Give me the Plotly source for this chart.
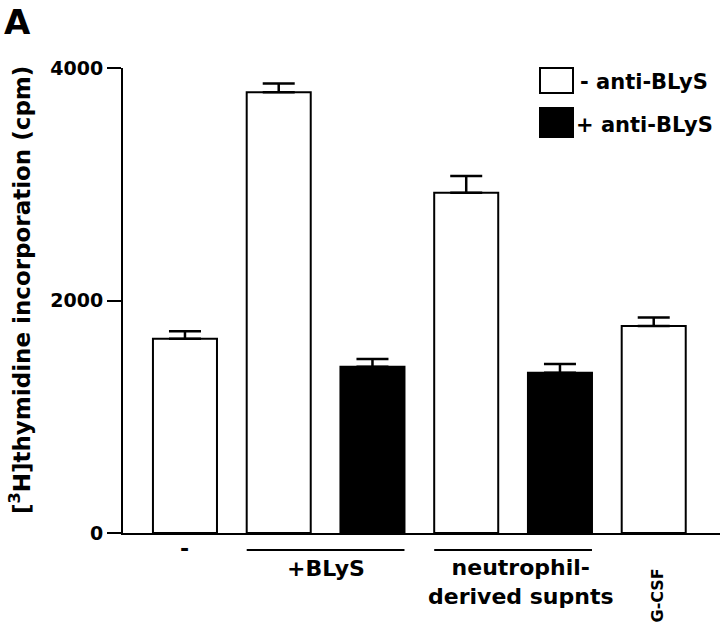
import plotly.graph_objects as go

# ---- data ----
bar_ids = ["none", "BLyS-", "BLyS+", "supnt-", "supnt+", "G-CSF"]
white_ids = ["none", "BLyS-", "supnt-", "G-CSF"]
white_vals = [1670, 3792, 2927, 1780]
white_err = [65, 75, 143, 74]
black_ids = ["BLyS+", "supnt+"]
black_vals = [1430, 1378]
black_err = [67, 75]
y_ticks = [0, 2000, 4000]
legend_names = ["- anti-BLyS", "+ anti-BLyS"]
y_title = "[<sup>3</sup>H]thymidine incorporation (cpm)"

FONT = "DejaVu Sans, Liberation Sans, Arial, sans-serif"
BW = 0.683

fig = go.Figure()
fig.add_trace(go.Bar(
    x=white_ids, y=white_vals, width=BW, name=legend_names[0],
    marker=dict(color="white", line=dict(color="black", width=2)),
    error_y=dict(type="data", array=white_err, arrayminus=[0]*len(white_err),
                 symmetric=False, color="black", thickness=2.5, width=16),
    cliponaxis=False, showlegend=False))
fig.add_trace(go.Bar(
    x=black_ids, y=black_vals, width=BW, name=legend_names[1],
    marker=dict(color="black", line=dict(color="black", width=2)),
    error_y=dict(type="data", array=black_err, arrayminus=[0]*len(black_err),
                 symmetric=False, color="black", thickness=2.5, width=16),
    cliponaxis=False, showlegend=False))

# plot area in page px: x 123..720, y 68..533
fig.update_layout(
    width=720, height=626,
    margin=dict(l=123, r=0, t=68, b=93),
    paper_bgcolor="white", plot_bgcolor="white",
    barmode="overlay",
    font=dict(family=FONT, color="black"),
    xaxis=dict(type="category", categoryorder="array", categoryarray=bar_ids,
               range=[-0.661, 5.707], showticklabels=False, ticks="",
               showline=True, linecolor="black", linewidth=2, showgrid=False,
               zeroline=False, fixedrange=True),
    yaxis=dict(range=[0, 4000], tickvals=y_ticks, ticks="outside", ticklen=14,
               tickwidth=2, tickcolor="black", showline=True, linecolor="black",
               linewidth=2, showgrid=False, zeroline=False,
               tickfont=dict(family=FONT, size=19, color="black", weight="bold")),
)

def px_x(p):
    return (p - 123) / 597
def px_y(p):
    return (533 - p) / 465

# legend built from shapes + text
fig.add_shape(type="rect", xref="paper", yref="paper",
              x0=px_x(540), x1=px_x(573), y0=px_y(93), y1=px_y(68),
              line=dict(color="black", width=2), fillcolor="white")
fig.add_shape(type="rect", xref="paper", yref="paper",
              x0=px_x(540), x1=px_x(573), y0=px_y(137), y1=px_y(108),
              line=dict(color="black", width=2), fillcolor="black")
fig.add_annotation(text=legend_names[0], xref="paper", yref="paper",
                   x=px_x(578), y=px_y(82), xanchor="left", yanchor="middle",
                   showarrow=False, font=dict(size=21, weight="bold"))
fig.add_annotation(text=legend_names[1], xref="paper", yref="paper",
                   x=px_x(574), y=px_y(125), xanchor="left", yanchor="middle",
                   showarrow=False, font=dict(size=21, weight="bold"))

# group underlines
for a, b in [(1, 2), (3, 4)]:
    fig.add_shape(type="line", xref="x", yref="paper",
                  x0=a - BW / 2, x1=b + BW / 2, y0=px_y(550), y1=px_y(550),
                  line=dict(color="black", width=2))

# category labels
lab = dict(xref="x", yref="paper", showarrow=False, xanchor="center", yanchor="middle")
fig.add_annotation(text="-", x=0, y=px_y(548), font=dict(size=22, weight="bold"), **lab)
fig.add_annotation(text="+BLyS", x=1.5, y=px_y(568), font=dict(size=22, weight="bold"), **lab)
fig.add_annotation(text="neutrophil-<br>derived supnts", x=3.58, y=px_y(582),
                   font=dict(size=22, weight="bold"), **lab)
fig.add_annotation(text="G-CSF", x=5.04, y=px_y(595), textangle=-90,
                   font=dict(size=16, weight="bold"), **lab)

# y-axis title
fig.add_annotation(text=y_title, xref="paper", yref="paper", x=px_x(20), y=px_y(290),
                   xanchor="center", yanchor="middle",
                   textangle=-90, showarrow=False, font=dict(size=23, weight="bold"))

# panel letter
fig.add_annotation(text="A", xref="paper", yref="paper", x=px_x(2), y=px_y(0),
                   xanchor="left", yanchor="top", showarrow=False,
                   font=dict(size=34, weight="bold"))

fig.write_html("out.html", config={"displayModeBar": False},
               post_script="document.body.style.margin='0';")
